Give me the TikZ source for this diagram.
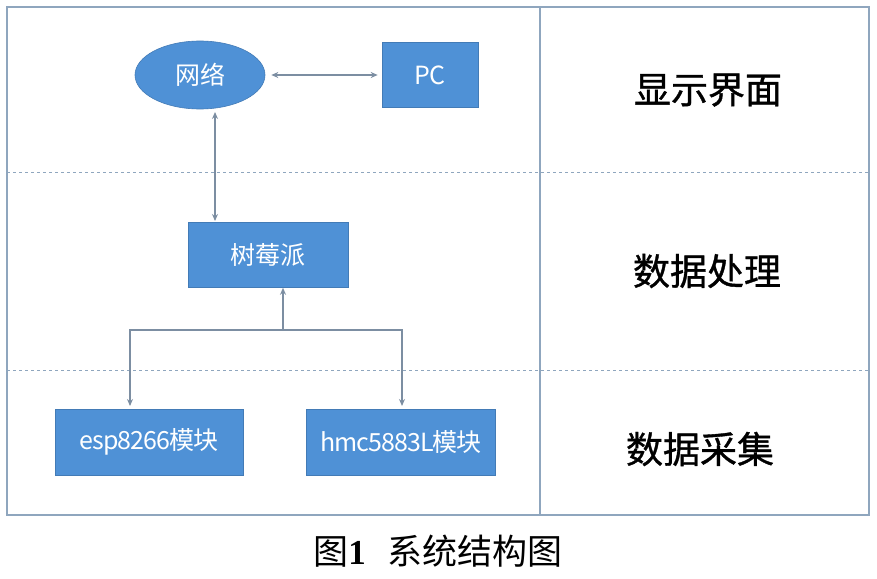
\documentclass[tikz,border=0pt]{standalone}
\usepackage{fontspec}
\setmainfont{Liberation Serif}
\newfontfamily\cjk{Noto Sans CJK SC}
\newfontfamily\cjkb{Noto Sans CJK SC}[FakeBold=1]
\usetikzlibrary{shapes.geometric,arrows.meta}
\definecolor{boxblue}{HTML}{4F91D6}
\definecolor{framec}{HTML}{8FA6BE}
\definecolor{arrc}{HTML}{7C8EA2}
\tikzset{
  blk/.style={draw=boxblue!85!black, line width=0.6pt, fill=boxblue, text=white, font=\cjk\fontsize{25}{27}\selectfont, inner sep=0pt},
  conn/.style={draw=arrc, line width=1.2pt, -{Stealth[length=7pt,width=6pt]}},
  biconn/.style={draw=arrc, line width=1.2pt, {Stealth[length=7pt,width=6pt]}-{Stealth[length=7pt,width=6pt]}},
  lbl/.style={font=\cjkb\fontsize{37}{40}\selectfont, text=black},
  frm/.style={draw=framec, line width=1.4pt},
  sep/.style={draw=framec, line width=0.8pt, dashed, dash pattern=on 3pt off 3pt}
}
\begin{document}
\begin{tikzpicture}[x=1pt,y=-1pt]
\useasboundingbox (0,0) rectangle (877,578);
% frame
\draw[frm] (7,7) rectangle (869,515);
\draw[frm] (540,7) -- (540,515);
\draw[sep] (7,172) -- (869,172);
\draw[sep] (7,370) -- (869,370);
% nodes
\node[blk, ellipse, minimum width=130pt, minimum height=68pt] (net) at (200,75) {网络};
\node[blk, minimum width=96pt, minimum height=65pt] (pc) at (430,75) {PC};
\node[blk, minimum width=160pt, minimum height=65pt] (pi) at (268,255) {树莓派};
\node[blk, minimum width=188pt, minimum height=66pt] (esp) at (149,442) {\addfontfeature{LetterSpace=-4}esp8266模块};
\node[blk, minimum width=189pt, minimum height=66pt] (hmc) at (401,442) {\addfontfeature{LetterSpace=-4}hmc5883L模块};
\coordinate (j) at (283,330);
% connectors
\draw[biconn] ([xshift=6pt]net.east) -- ([xshift=-4pt]pc.west);
\draw[biconn] (215,112) -- (215,221);
\draw[conn] (j) -- (j |- pi.south);
\draw[conn] (j) -| (130,406);
\draw[conn] (j) -| (402,406);
% labels
\node[lbl] (l1) at (708,90) {显示界面};
\node[lbl] (l2) at (707,271) {数据处理};
\node[lbl] (l3) at (700,449) {数据采集};
% caption
\node[font=\fontsize{35}{38}\selectfont] (cap) at (438,551) {{\cjk 图}\textbf{1}\hspace{22pt}{\cjk 系统结构图}};
\end{tikzpicture}
\end{document}
